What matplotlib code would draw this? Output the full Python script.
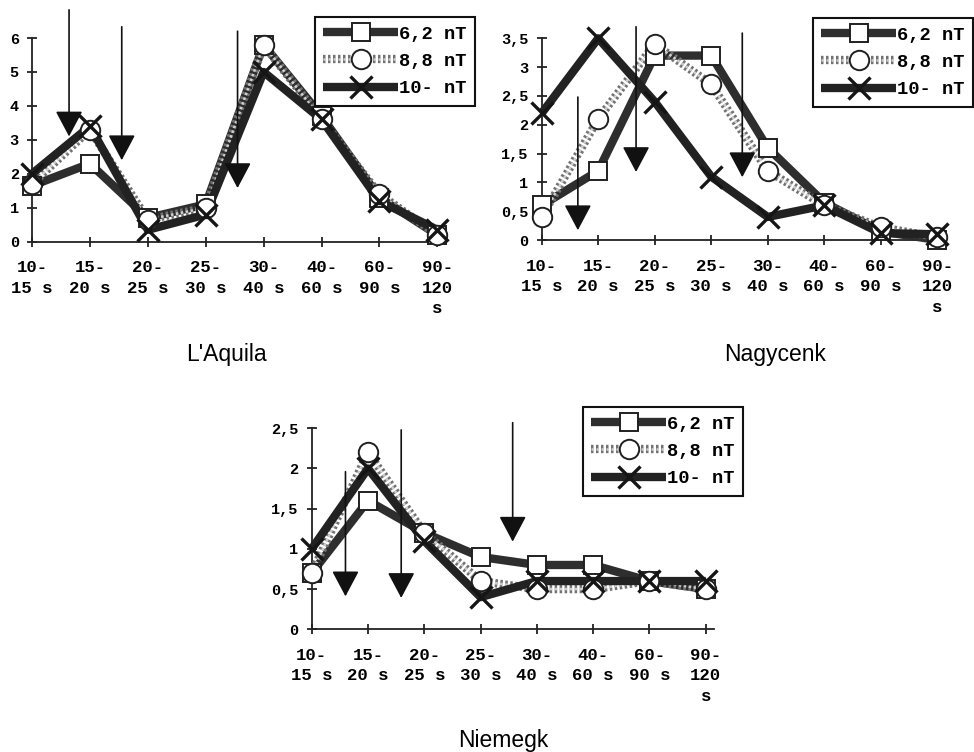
import numpy as np
import matplotlib.pyplot as plt
import matplotlib.patheffects as pe
from matplotlib.lines import Line2D
from matplotlib.legend_handler import HandlerTuple

##-----     DATA     -----
periods = ['10-\n15 s', '15-\n20 s', '20-\n25 s', '25-\n30 s',
           '30-\n40 s', '40-\n60 s', '60-\n90 s', '90-\n120\ns']
series_names = ['6,2 nT', '8,8 nT', '10- nT']

aquila_62 = [1.65, 2.3, 0.7, 1.1, 5.8, 3.7, 1.3, 0.2]
aquila_88 = [1.7, 3.3, 0.65, 1.0, 5.8, 3.6, 1.4, 0.2]
aquila_10 = [2.0, 3.4, 0.35, 0.8, 5.0, 3.6, 1.2, 0.35]

nagy_62 = [0.6, 1.2, 3.2, 3.2, 1.6, 0.65, 0.15, 0.0]
nagy_88 = [0.4, 2.1, 3.4, 2.7, 1.2, 0.6, 0.22, 0.05]
nagy_10 = [2.2, 3.5, 2.4, 1.1, 0.4, 0.6, 0.12, 0.1]

niem_62 = [0.7, 1.6, 1.2, 0.9, 0.8, 0.8, 0.6, 0.5]
niem_88 = [0.7, 2.2, 1.2, 0.6, 0.5, 0.5, 0.6, 0.5]
niem_10 = [1.0, 2.0, 1.1, 0.4, 0.6, 0.6, 0.6, 0.6]

# arrows: x position (category units), tail y, tip y
aquila_arrows = [(0.64, 6.83, 3.1), (1.55, 6.33, 2.4), (3.55, 6.2, 1.58)]
nagy_arrows = [(0.64, 2.48, 0.17), (1.67, 3.70, 1.18), (3.55, 3.59, 1.09)]
niem_arrows = [(0.60, 1.96, 0.41), (1.59, 2.48, 0.39), (3.57, 2.57, 1.09)]

aquila_yticks = [0, 1, 2, 3, 4, 5, 6]
nagy_yticks = [0, 0.5, 1, 1.5, 2, 2.5, 3, 3.5]
niem_yticks = [0, 0.5, 1, 1.5, 2, 2.5]

##-----     STYLE     -----
mono = 'Liberation Mono'
c62 = '#2e2e2e'
c88 = '#727272'
c10 = '#222222'
LW = 6.0

def fmt(v):
    return ('%g' % v).replace('.', ',')

def style62():
    return dict(color=c62, lw=LW, solid_capstyle='butt')

def style88():
    return dict(color='#cfcfcf', lw=1.8, ls=(0, (1, 1)),
                path_effects=[pe.Stroke(linewidth=LW, foreground=c88), pe.Normal()])

def style10():
    return dict(color=c10, lw=LW, solid_capstyle='butt')

mk62 = dict(ls='none', marker='s', ms=13, mfc='white', mec='#202020', mew=1.4)
mk88 = dict(ls='none', marker='o', ms=14, mfc='white', mec='#202020', mew=1.4)
mk10 = dict(ls='none', marker='x', ms=16, mec='#151515', mew=2.4)

def panel(fig, rect, y62, y88, y10, yticks, arrows, leg_anchor):
    ax = fig.add_axes(rect)
    x = np.arange(len(periods))
    # lines
    ax.plot(x, y62, zorder=3, clip_on=False, **style62())
    ax.plot(x, y88, zorder=3.1, clip_on=False, **style88())
    ax.plot(x, y10, zorder=3.2, clip_on=False, **style10())
    # markers
    ax.plot(x, y62, zorder=4, clip_on=False, **mk62)
    ax.plot(x, y88, zorder=4.1, clip_on=False, **mk88)
    ax.plot(x, y10, zorder=4.2, clip_on=False, **mk10)
    # arrows
    for ax_x, top, tip in arrows:
        ax.annotate('', xy=(ax_x, tip), xytext=(ax_x, top), annotation_clip=False,
                    arrowprops=dict(arrowstyle='-|>,head_length=1.6,head_width=0.85',
                                    mutation_scale=10, color='#111111', lw=1.2,
                                    shrinkA=0, shrinkB=0), zorder=5)
    ax.set_xlim(0, 7.15)
    ax.set_ylim(0, yticks[-1])
    ax.set_xticks(x)
    ax.set_xticklabels(periods, family=mono, fontsize=12.5, weight='bold',
                       linespacing=1.45)
    ax.set_yticks(yticks)
    ax.set_yticklabels([fmt(v) for v in yticks], family=mono, fontsize=11, weight='bold')
    for s in ['top', 'right']:
        ax.spines[s].set_visible(False)
    for s in ['left', 'bottom']:
        ax.spines[s].set_linewidth(1.3)
        ax.spines[s].set_color('#222222')
    ax.tick_params(direction='inout', length=7, width=1.3, color='#222222')
    ax.tick_params(axis='x', pad=10)
    ax.tick_params(axis='y', pad=6)
    # legend
    h62 = (Line2D([], [], **style62()), Line2D([], [], **mk62))
    h88 = (Line2D([], [], **style88()), Line2D([], [], **mk88))
    h10 = (Line2D([], [], **style10()), Line2D([], [], **mk10))
    leg = ax.legend([h62, h88, h10], series_names,
                    handler_map={tuple: HandlerTuple(ndivide=1)},
                    loc='upper right', bbox_to_anchor=leg_anchor,
                    bbox_transform=fig.transFigure, borderaxespad=0,
                    prop={'family': mono, 'size': 13.5, 'weight': 'bold'},
                    handlelength=4.0, handletextpad=0.05, labelspacing=0.55,
                    borderpad=0.45, fancybox=False, framealpha=1,
                    edgecolor='#111111')
    leg.get_frame().set_linewidth(1.5)
    leg.set_zorder(6)
    return ax

fig = plt.figure(figsize=(9.74, 7.52), dpi=100)

W, H = 974.0, 752.0
panel(fig, [32 / W, 1 - 241.7 / H, 414 / W, 203.7 / H],
      aquila_62, aquila_88, aquila_10, aquila_yticks, aquila_arrows,
      (475 / W, 1 - 17 / H))
panel(fig, [541.7 / W, 1 - 240 / H, 404 / W, 201.7 / H],
      nagy_62, nagy_88, nagy_10, nagy_yticks, nagy_arrows,
      (973 / W, 1 - 18 / H))
panel(fig, [311.7 / W, 1 - 629.3 / H, 402.5 / W, 201 / H],
      niem_62, niem_88, niem_10, niem_yticks, niem_arrows,
      (743 / W, 1 - 407 / H))

for tx, ty, name in [(226, 355, "L'Aquila"), (775, 355, 'Nagycenk'), (503, 740, 'Niemegk')]:
    fig.text(tx / W, 1 - ty / H, name, family='Liberation Sans', fontsize=16.5,
             ha='center', va='center')

plt.savefig('out.png', dpi=100)
plt.close()
